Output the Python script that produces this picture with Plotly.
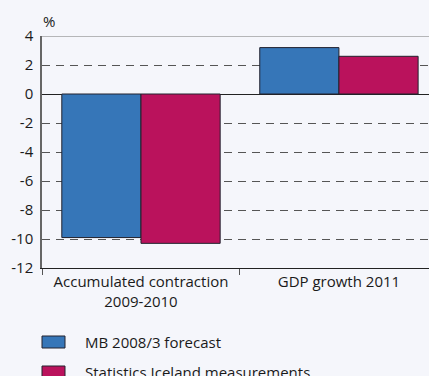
import plotly.graph_objects as go

categories = ["Accumulated contraction<br>2009-2010", "GDP growth 2011"]
series_names = ["MB 2008/3 forecast", "Statistics Iceland measurements"]
forecast = [-9.9, 3.2]
measured = [-10.3, 2.6]
series_values = [forecast, measured]
colors = ["#3676B8", "#BA125C"]
y_ticks = [4, 2, 0, -2, -4, -6, -8, -10, -12]

FONT = "Open Sans"

fig = go.Figure()
for name, vals, col in zip(series_names, series_values, colors):
    fig.add_trace(go.Bar(
        x=categories, y=vals, name=name,
        marker=dict(color=col, line=dict(color="#22222e", width=1)),
        showlegend=False,
    ))

fig.update_layout(
    width=429, height=376,
    margin=dict(l=42, r=0, t=36, b=108),
    paper_bgcolor="#F5F6FB",
    plot_bgcolor="rgba(0,0,0,0)",
    barmode="group", bargap=0.2, bargroupgap=0,
    font=dict(family=FONT, size=15, color="#1a1a1a"),
    xaxis=dict(
        range=[-0.5, 1.455], showline=True, linecolor="#222", linewidth=1.2,
        ticks="outside", tickson="boundaries", ticklen=6, tickcolor="#555",
        tickfont=dict(size=15), showgrid=False,
    ),
    yaxis=dict(
        range=[-12, 4], tickvals=y_ticks, ticktext=[str(v) for v in y_ticks],
        showline=True, linecolor="#666", linewidth=1.5,
        showgrid=True, gridcolor="#555", griddash="8px,6px", gridwidth=1,
        zeroline=True, zerolinecolor="#222", zerolinewidth=1.2,
        ticks="", tickfont=dict(size=15), ticklabelstandoff=4,
    ),
)

# top border of the plot area
fig.add_shape(type="line", xref="paper", yref="y", x0=0, x1=1, y0=4, y1=4,
              line=dict(color="#777", width=1.2))

fig.add_annotation(text="%", xref="paper", yref="paper", x=0, y=1.0,
                   xanchor="left", yanchor="bottom", showarrow=False,
                   xshift=-1, yshift=3, font=dict(size=15))

# legend drawn below the chart
for i, (name, col) in enumerate(zip(series_names, colors)):
    ytop = 336 + i * 30
    fig.add_shape(type="rect", xref="paper", yref="paper",
                  x0=0, x1=23 / 387, y0=1 - (ytop - 36) / 232,
                  y1=1 - (ytop + 12 - 36) / 232,
                  fillcolor=col, line=dict(color="#22222e", width=1))
    fig.add_annotation(text=name, xref="paper", yref="paper",
                       x=41 / 387, y=1 - (ytop + 6 - 36) / 232,
                       xanchor="left", yanchor="middle", showarrow=False,
                       font=dict(size=15))

fig.write_html("out.html")
